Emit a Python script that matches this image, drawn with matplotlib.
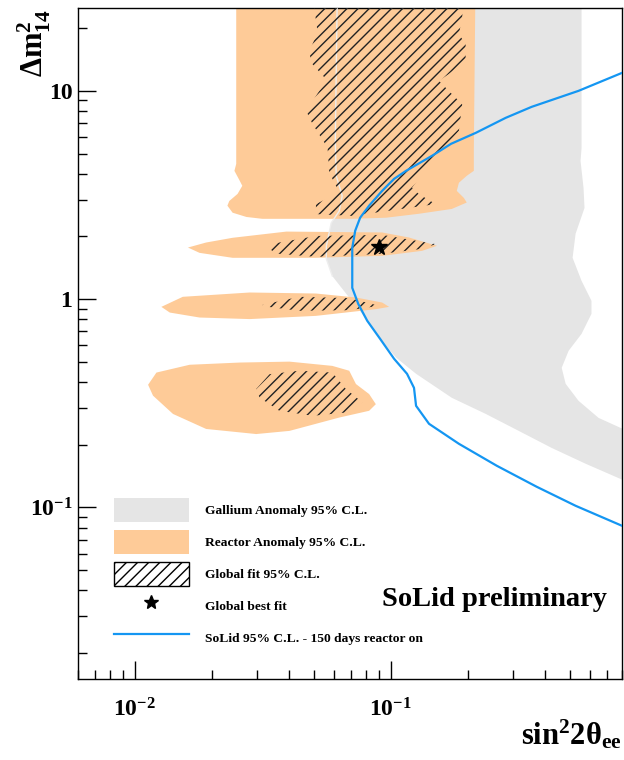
import numpy as np
import matplotlib
matplotlib.use("Agg")
import matplotlib.pyplot as plt
from matplotlib.patches import Patch
from matplotlib.lines import Line2D
from matplotlib.ticker import LogLocator, FuncFormatter, NullFormatter

plt.rcParams["font.family"] = ["Liberation Serif", "DejaVu Serif"]
plt.rcParams["font.weight"] = "bold"
plt.rcParams["mathtext.fontset"] = "custom"
plt.rcParams["mathtext.rm"] = "Liberation Serif:bold"
plt.rcParams["mathtext.bf"] = "Liberation Serif:bold"
plt.rcParams["mathtext.it"] = "Liberation Serif:bold:italic"
plt.rcParams["hatch.linewidth"] = 1.0

# contours: (sin^2 2theta, dm^2 [eV^2])
gallium_sin2 = [0.0618, 0.0607, 0.0612, 0.0646, 0.0629, 0.0585, 0.056, 0.056, 0.0591,
                0.067, 0.0773, 0.090, 0.105, 0.1255, 0.173, 0.235, 0.316, 0.425, 0.577,
                0.789, 0.9, 0.9, 0.789, 0.648, 0.541, 0.482, 0.465, 0.495, 0.556, 0.608,
                0.608, 0.556, 0.513, 0.527, 0.571, 0.566, 0.551, 0.556, 0.556]
gallium_dm2 = [30, 5.75, 3.91, 3.13, 2.65, 2.32, 1.80, 1.56, 1.29,
               1.06, 0.850, 0.652, 0.523, 0.438, 0.336, 0.281, 0.233, 0.193, 0.162,
               0.137, 0.127, 0.225, 0.241, 0.269, 0.325, 0.392, 0.468, 0.565, 0.681, 0.850,
               0.981, 1.224, 1.579, 2.06, 2.74, 3.42, 4.61, 5.32, 30]

reactor_top_sin2 = [0.0249, 0.0249, 0.0245, 0.0257, 0.0263, 0.0252, 0.0234, 0.0230, 0.0241,
                    0.0273, 0.0315, 0.0707, 0.0959, 0.1289, 0.173, 0.198, 0.193, 0.181,
                    0.1845, 0.198, 0.211, 0.211, 0.214]
reactor_top_dm2 = [30, 4.46, 4.13, 3.70, 3.50, 3.20, 2.96, 2.81, 2.60,
                   2.48, 2.43, 2.43, 2.46, 2.57, 2.71, 2.91, 3.06, 3.31,
                   3.62, 3.91, 4.13, 5.15, 30]
reactor_mid1_sin2 = [0.01613, 0.0190, 0.0241, 0.0391, 0.0925, 0.1178, 0.1515, 0.1324,
                     0.0925, 0.0510, 0.0241, 0.0179]
reactor_mid1_dm2 = [1.769, 1.870, 1.97, 2.11, 2.09, 1.976, 1.803, 1.705,
                    1.614, 1.579, 1.579, 1.668]
reactor_mid2_sin2 = [0.0127, 0.0154, 0.0281, 0.0510, 0.0731, 0.0925, 0.0985, 0.0874,
                     0.0510, 0.0281, 0.0179, 0.0137]
reactor_mid2_dm2 = [0.918, 1.026, 1.076, 1.064, 1.018, 0.963, 0.918, 0.895,
                    0.831, 0.802, 0.816, 0.862]
reactor_low_sin2 = [0.01127, 0.01215, 0.01638, 0.0257, 0.0402, 0.0591, 0.0688, 0.0731,
                    0.0823, 0.0874, 0.0823, 0.0629, 0.0402, 0.0298, 0.0190, 0.0141, 0.01178]
reactor_low_dm2 = [0.388, 0.444, 0.484, 0.496, 0.501, 0.478, 0.453, 0.391,
                   0.350, 0.313, 0.291, 0.270, 0.233, 0.225, 0.238, 0.281, 0.344]

glob_top_sin2 = [0.0495, 0.0510, 0.0518, 0.0481, 0.0488, 0.0566, 0.0526, 0.0467, 0.0495,
                 0.0566, 0.0575, 0.0629, 0.0510, 0.0510, 0.0707, 0.1497, 0.1289, 0.121,
                 0.1385, 0.1497, 0.1845, 0.190, 0.173, 0.1542, 0.1687, 0.196, 0.196,
                 0.1845, 0.190, 0.193]
glob_top_dm2 = [30, 21.7, 19.05, 15.56, 13.67, 11.17, 10.0, 8.02, 6.92,
                5.34, 4.05, 3.25, 2.86, 2.56, 2.51, 2.86, 3.19, 3.43,
                4.28, 4.79, 6.43, 8.63, 9.67, 11.17, 12.07, 13.93, 16.76,
                18.72, 22.5, 30]
glob_mid1_sin2 = [0.0331, 0.0345, 0.0510, 0.0925, 0.1497, 0.1324, 0.0925, 0.0510, 0.0356]
glob_mid1_dm2 = [1.769, 1.844, 2.01, 2.035, 1.837, 1.744, 1.650, 1.596, 1.655]
glob_mid2_sin2 = [0.0316, 0.0439, 0.0688, 0.090, 0.0688, 0.0439, 0.0316]
glob_mid2_dm2 = [0.939, 1.026, 1.011, 0.929, 0.885, 0.879, 0.925]
glob_low_sin2 = [0.0298, 0.0336, 0.0439, 0.0591, 0.0668, 0.0775, 0.0668, 0.0495, 0.0367, 0.0307]
glob_low_dm2 = [0.370, 0.436, 0.453, 0.444, 0.370, 0.319, 0.2855, 0.2753, 0.291, 0.337]

best_fit = (0.09, 1.77)

solid_sin2 = [0.80, 0.541, 0.355, 0.281, 0.215, 0.172, 0.145, 0.1147, 0.103, 0.0925,
              0.0823, 0.0759, 0.0726, 0.0707, 0.0707, 0.0707, 0.0746, 0.0809, 0.0908,
              0.103, 0.1157, 0.1232, 0.1255, 0.141, 0.1845, 0.2595, 0.3715, 0.527, 0.80]
solid_dm2 = [12.2, 10.0, 8.38, 7.42, 6.29, 5.57, 4.88, 4.13, 3.78, 3.31,
             2.81, 2.46, 2.13, 1.764, 1.414, 1.133, 0.949, 0.787, 0.645,
             0.517, 0.438, 0.375, 0.3075, 0.252, 0.202, 0.1584, 0.1256, 0.1018, 0.0816]

labels = ["Gallium Anomaly 95% C.L.", "Reactor Anomaly 95% C.L.", "Global fit 95% C.L.",
          "Global best fit", "SoLid 95% C.L. - 150 days reactor on"]

GRAY = "#e5e5e5"
ORANGE = "#fecb98"
BLUE = "#1496f2"
HATCH = "#222222"

fig = plt.figure(figsize=(6.24, 7.6), dpi=100)
ax = fig.add_axes([0.125, 0.1066, 0.8718, 0.8829])
ax.set_xscale("log")
ax.set_yscale("log")

ax.fill(gallium_sin2, gallium_dm2, color=GRAY, lw=0, zorder=1)
for xs, ys in [(reactor_top_sin2, reactor_top_dm2), (reactor_mid1_sin2, reactor_mid1_dm2),
               (reactor_mid2_sin2, reactor_mid2_dm2), (reactor_low_sin2, reactor_low_dm2)]:
    ax.fill(xs, ys, color=ORANGE, lw=0, zorder=2)
# edge of the gallium band shows through the reactor fill
ax.plot(gallium_sin2[:9], gallium_dm2[:9], color="#eeeeee", lw=1.0, zorder=3)
for xs, ys in [(glob_top_sin2, glob_top_dm2), (glob_mid1_sin2, glob_mid1_dm2),
               (glob_mid2_sin2, glob_mid2_dm2), (glob_low_sin2, glob_low_dm2)]:
    ax.fill(xs, ys, fill=False, hatch="///", edgecolor=HATCH, lw=0, zorder=4)

ax.plot(solid_sin2, solid_dm2, color=BLUE, lw=1.6, zorder=5)
ax.plot(*best_fit, marker="*", color="black", ms=12, ls="none", zorder=6)

ax.set_xlim(0.006, 0.8)
ax.set_ylim(0.015, 25)

ax.xaxis.set_major_locator(LogLocator(base=10))
ax.xaxis.set_minor_locator(LogLocator(base=10, subs=np.arange(2, 10)))
ax.yaxis.set_minor_locator(LogLocator(base=10, subs=np.arange(2, 10)))
ax.xaxis.set_minor_formatter(NullFormatter())
ax.yaxis.set_minor_formatter(NullFormatter())
ax.xaxis.set_major_formatter(FuncFormatter(lambda v, p: r"$10^{%d}$" % round(np.log10(v))))


def ylab(v, p):
    e = round(np.log10(v))
    if e == 0:
        return "1"
    if e == 1:
        return "10"
    return r"$10^{%d}$" % e


ax.yaxis.set_major_formatter(FuncFormatter(ylab))
ax.tick_params(which="both", direction="in", top=False, right=False, width=1.0)
ax.tick_params(which="major", length=13, labelsize=17)
ax.tick_params(which="minor", length=6.5)
ax.tick_params(axis="x", which="major", pad=14)
ax.tick_params(axis="y", which="major", pad=4)
for s in ax.spines.values():
    s.set_linewidth(1.0)

ax.set_ylabel(r"$\mathrm{Δm}^{2}_{14}$", fontsize=22)
ax.yaxis.set_label_coords(-0.046, 0.948)
ax.set_xlabel(r"$\mathrm{sin}^{2}\mathrm{2θ}_{\mathrm{ee}}$", fontsize=22, ha="right")
ax.xaxis.set_label_coords(1.0, -0.058)

ax.text(0.973, 0.118, "SoLid preliminary", transform=ax.transAxes, ha="right",
        va="center", fontsize=20.5, fontweight="bold")

handles = [
    Patch(facecolor=GRAY, edgecolor="none"),
    Patch(facecolor=ORANGE, edgecolor="none"),
    Patch(facecolor="white", edgecolor="black", hatch="///", lw=1.0),
    Line2D([], [], marker="*", color="black", ms=10, ls="none"),
    Line2D([], [], color=BLUE, lw=1.6),
]
ax.legend(handles, labels, loc="upper left", bbox_to_anchor=(0.066, 0.2697),
          frameon=False, fontsize=9.7, handlelength=5.56, handleheight=2.36,
          handletextpad=1.19, labelspacing=0.59, borderpad=0, borderaxespad=0)

fig.savefig("out.png", dpi=100)
